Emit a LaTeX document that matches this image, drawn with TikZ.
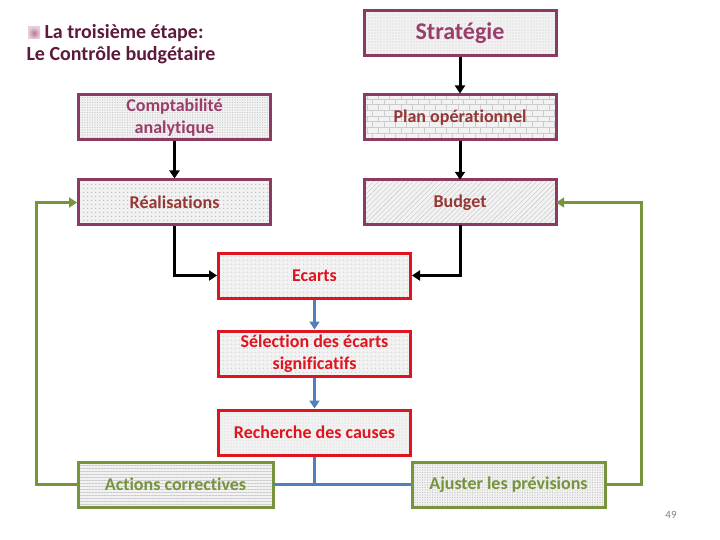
\documentclass[tikz,border=0pt]{standalone}
\usepackage{fontspec}
\setmainfont{Carlito}[Ligatures={NoCommon}]
\usetikzlibrary{arrows.meta,patterns,patterns.meta,shadings}
\definecolor{maroonb}{HTML}{8B3A62}
\definecolor{plumtxt}{HTML}{9B3D6B}
\definecolor{browntxt}{HTML}{953735}
\definecolor{titlec}{HTML}{5C1A3C}
\definecolor{redb}{HTML}{E0141E}
\definecolor{greenb}{HTML}{77933C}
\definecolor{blueb}{HTML}{4F81BD}
\tikzset{
  box/.style={rectangle, minimum width=192pt, minimum height=45pt, line width=3pt, inner sep=2pt, align=center, font=\bfseries\fontsize{18}{22}\selectfont},
  mbox/.style={box, draw=maroonb, text=browntxt},
  rbox/.style={box, draw=redb, text=redb},
  gbox/.style={box, draw=greenb, text=greenb},
  bg/.style={preaction={fill=gray!10}},
  blk/.style={line width=3pt, black, -{Triangle[length=8pt,width=10pt]}},
  blu/.style={line width=3pt, blueb, -{Triangle[length=8pt,width=10pt]}},
  blun/.style={line width=3pt, blueb},
  grn/.style={line width=3pt, greenb, -{Triangle[length=8pt,width=10pt]}},
}
\begin{document}
\begin{tikzpicture}[x=1pt,y=-1pt]
\useasboundingbox (0,0) rectangle (720,540);
% title
\shade[inner color=plumtxt!70, outer color=plumtxt!25] (28,27) rectangle (40,39);
\node[anchor=west, text=titlec, font=\bfseries\fontsize{20}{24}\selectfont] (t1) at (41,33) {La troisième étape:};
\node[anchor=west, text=titlec, font=\bfseries\fontsize{20}{24}\selectfont] (t2) at (23,55) {Le Contrôle budgétaire};
% boxes
\node[mbox, bg, text=plumtxt, font=\bfseries\fontsize{24}{28}\selectfont, pattern={Dots[radius=0.7pt,distance=3pt]}, pattern color=gray!40] (strat) at (460,33.5) {Stratégie};
\node[mbox, bg, text=plumtxt, pattern={Dots[radius=0.6pt,distance=2.5pt]}, pattern color=gray!45] (compta) at (174.5,117.5) {Comptabilité\\analytique};
\node[mbox, bg, pattern=bricks, pattern color=gray!40] (plan) at (460,117.5) {Plan opérationnel};
\node[mbox, bg, pattern={Dots[radius=1pt,distance=4pt]}, pattern color=gray!45] (real) at (174.5,202.5) {Réalisations};
\node[mbox, bg, pattern={Lines[angle=45,distance=3.5pt,line width=0.4pt]}, pattern color=gray!45] (budget) at (460,202.5) {Budget};
\node[rbox, bg, pattern={Dots[radius=0.9pt,distance=4pt]}, pattern color=gray!35] (ecarts) at (314.5,275.5) {Ecarts};
\node[rbox, bg, pattern={Dots[radius=0.9pt,distance=4pt]}, pattern color=gray!35] (select) at (314.5,353.5) {Sélection des écarts\\significatifs};
\node[rbox, bg, pattern={Dots[radius=0.5pt,distance=3pt]}, pattern color=gray!45] (cause) at (314.5,432.5) {Recherche des causes};
\node[gbox, minimum width=195pt, bg, pattern={Lines[angle=0,distance=3pt,line width=0.3pt]}, pattern color=gray!40] (actions) at (175.5,484.5) {Actions correctives};
\node[gbox, minimum width=193pt, bg, pattern={Dots[radius=0.6pt,distance=2.5pt]}, pattern color=gray!50] (ajust) at (508.5,484.5) {Ajuster les prévisions};
\node[text=gray, font=\fontsize{11}{13}\selectfont] (num) at (671,515) {49};
% black connectors
\draw[blk] (strat) -- (plan);
\draw[blk] (compta) -- (real);
\draw[blk] (plan) -- (budget);
\draw[blk] (real.south) |- (ecarts.west);
\draw[blk] (budget.south) |- (ecarts.east);
% blue
\draw[blu] (ecarts) -- (select);
\draw[blu] (select) -- (cause);
\coordinate (j) at (cause.south |- actions.east);
\draw[blun] (cause.south) -- (j);
\draw[blun] (actions.east) -- (ajust.west);
% green
\coordinate (gl) at (36,0);
\coordinate (gr) at (641,0);
\draw[grn] (actions.west) -| (gl |- actions.west) -- (gl |- real.west) -- (real.west);
\draw[grn] (ajust.east) -| (gr |- ajust.east) -- (gr |- budget.east) -- (budget.east);
\end{tikzpicture}
\end{document}
